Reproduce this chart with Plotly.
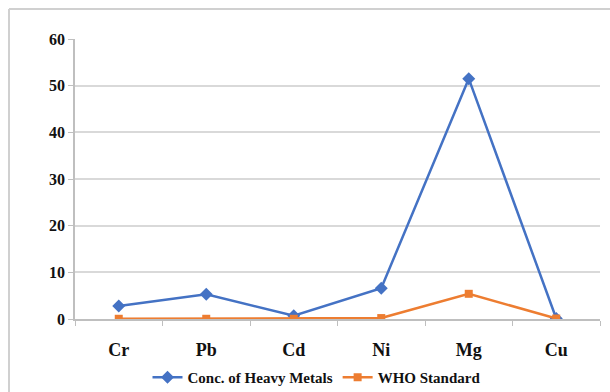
import plotly.graph_objects as go

categories = ["Cr", "Pb", "Cd", "Ni", "Mg", "Cu"]
conc_heavy_metals = [2.8, 5.3, 0.7, 6.6, 51.5, 0.1]
who_standard = [0.05, 0.05, 0.05, 0.2, 5.4, 0.1]
y_ticks = [0, 10, 20, 30, 40, 50, 60]

FONT = "Liberation Serif"
GRID = "#d9d9d9"
AXIS = "#bfbfbf"
TXT = "#111111"

fig = go.Figure()
fig.add_trace(go.Scatter(
    x=categories, y=conc_heavy_metals, name="Conc. of Heavy Metals",
    mode="lines+markers",
    line=dict(color="#4472C4", width=2.5),
    marker=dict(symbol="diamond", size=10, color="#4472C4"),
))
fig.add_trace(go.Scatter(
    x=categories, y=who_standard, name="WHO Standard",
    mode="lines+markers",
    line=dict(color="#ED7D31", width=2.5),
    marker=dict(symbol="square", size=8, color="#ED7D31"),
))

# frame lines (paper coords relative to plot area 75..600 x, 39..319 y)
fig.add_shape(type="line", xref="paper", yref="paper",
              x0=-0.1257, x1=1.02, y0=1.107, y1=1.107,
              line=dict(color="#d0d0d0", width=2))
fig.add_shape(type="line", xref="paper", yref="paper",
              x0=-0.1257, x1=-0.1257, y0=1.107, y1=-0.27,
              line=dict(color="#d0d0d0", width=2))

fig.update_layout(
    width=610, height=392,
    margin=dict(l=75, r=10, t=39, b=73, autoexpand=False),
    paper_bgcolor="white", plot_bgcolor="white",
    showlegend=True,
    legend=dict(orientation="h", x=0.46, xanchor="center", y=-0.15, yanchor="top",
                font=dict(family=FONT, size=15, color=TXT, weight="bold"),
                itemwidth=30, tracegroupgap=0),
    font=dict(family=FONT, color=TXT),
)
fig.update_xaxes(
    type="category", range=[-0.5, 5.5], automargin=False,
    showline=True, linecolor=AXIS, linewidth=1.5,
    ticks="outside", tickson="boundaries", ticklen=5, tickcolor=AXIS,
    showgrid=False,
    tickfont=dict(family=FONT, size=18, color=TXT, weight="bold"),
    ticklabelstandoff=14,
)
fig.update_yaxes(
    range=[0, 60], tickvals=y_ticks, automargin=False,
    showline=True, linecolor=AXIS, linewidth=1.5,
    ticks="outside", ticklen=5, tickcolor=AXIS,
    showgrid=True, gridcolor=GRID, gridwidth=2,
    zeroline=False,
    tickfont=dict(family=FONT, size=16, color=TXT, weight="bold"),
)

fig.write_html("out.html")
